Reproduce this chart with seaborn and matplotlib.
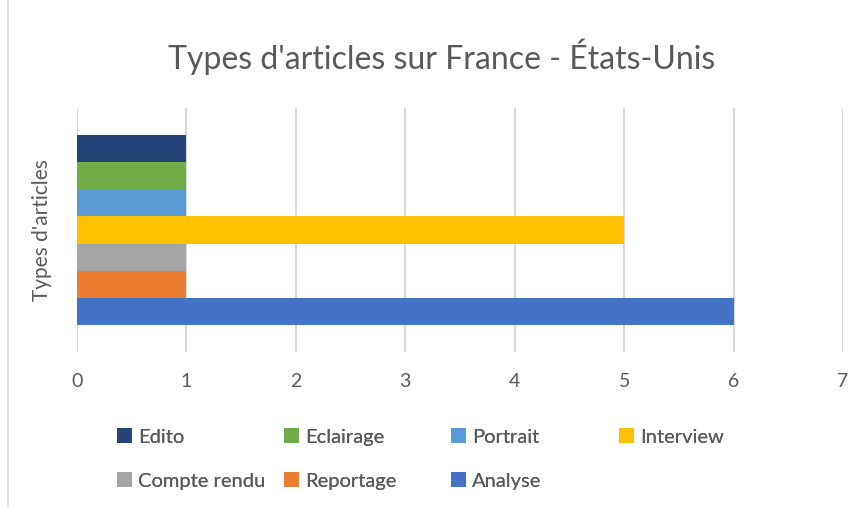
import pandas as pd
import numpy as np
import matplotlib
matplotlib.use('Agg')
import seaborn as sns
import matplotlib.pyplot as plt
from matplotlib.patches import Patch
from matplotlib.lines import Line2D

# data, top bar first
types = ['Edito', 'Eclairage', 'Portrait', 'Interview', 'Compte rendu', 'Reportage', 'Analyse']
counts = [1, 1, 1, 5, 1, 1, 6]
colors = ['#264478', '#70AD47', '#5B9BD5', '#FFC000', '#A5A5A5', '#ED7D31', '#4472C4']
category = "Types d'articles"
title = "Types d'articles sur France - États-Unis"

df = pd.DataFrame({'Categorie': [category] * len(types), 'Type': types, 'Nombre': counts})

sns.set_style('white')
plt.rcParams['font.family'] = ['Lato', 'DejaVu Sans']
text_grey = '#595959'
grid_grey = '#D9D9D9'

fig = plt.figure(figsize=(8.68, 5.07), dpi=100)
ax = fig.add_axes([77 / 868, 1 - 352 / 507, (843 - 77) / 868, (352 - 108) / 507])

sns.barplot(data=df, y='Categorie', x='Nombre', hue='Type', hue_order=types,
            palette=colors, orient='h', width=0.78, saturation=1, legend=False,
            linewidth=0, ax=ax)

ax.set_xlim(0, 7)
ax.set_xticks(range(0, 8))
ax.xaxis.grid(True, color=grid_grey, linewidth=1.5)
ax.set_axisbelow(True)
for s in ax.spines.values():
    s.set_visible(False)
ax.tick_params(axis='x', length=0, pad=15, labelsize=14, labelcolor=text_grey)
ax.set_yticks([])
ax.set_xlabel('')
ax.set_ylabel(category, fontsize=15, color=text_grey, labelpad=18)

fig.text(0.509, 1 - 57 / 507, title, ha='center', va='center', fontsize=23, color=text_grey)

# legend laid out like Excel: two rows, fixed columns
col_x = [117, 284, 451, 619]
row_y = [437, 481]
for i, (t, c) in enumerate(zip(types, colors)):
    r, k = divmod(i, 4)
    leg = fig.legend(handles=[Patch(facecolor=c, edgecolor='none')], labels=[t],
                     loc='center left', bbox_to_anchor=(col_x[k] / 868, 1 - row_y[r] / 507),
                     frameon=False, fontsize=14.5, labelcolor=text_grey,
                     handlelength=0.75, handleheight=0.75, handletextpad=0.3, borderpad=0,
                     borderaxespad=0)
    fig.add_artist(leg)

fig.add_artist(Line2D([8 / 868, 8 / 868], [0, 1], color=grid_grey, linewidth=1.2))

fig.savefig('out.png', dpi=100)
